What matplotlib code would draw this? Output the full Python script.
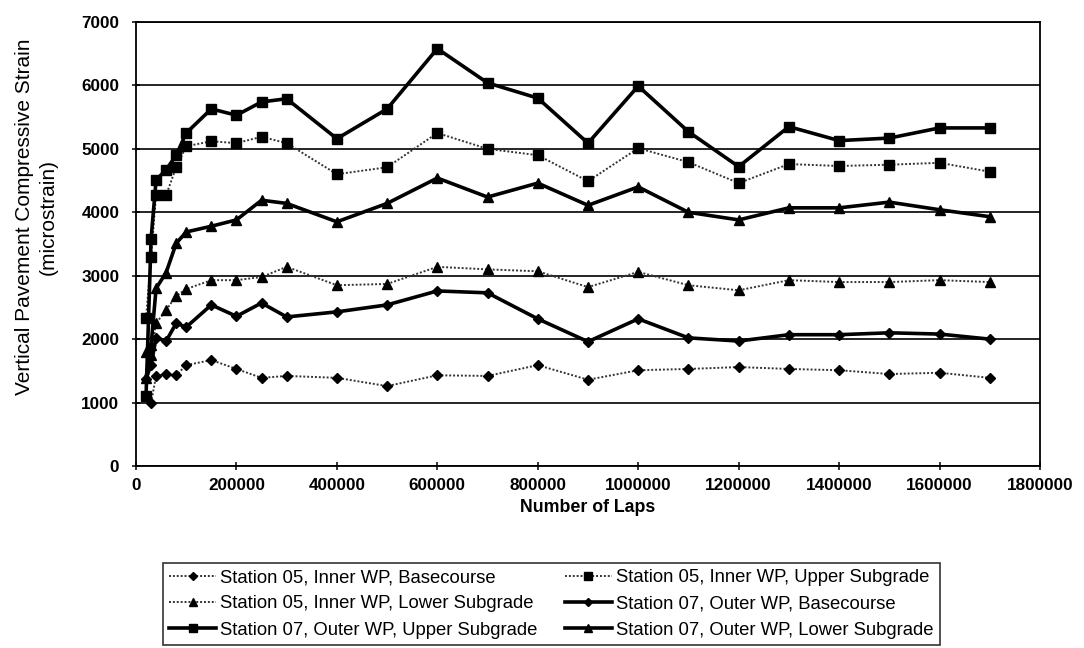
import matplotlib
matplotlib.use("Agg")
import matplotlib.pyplot as plt
from matplotlib.ticker import MultipleLocator, FuncFormatter

plt.rcParams['font.family'] = ['Liberation Sans', 'DejaVu Sans']

laps = [20000, 30000, 40000, 60000, 80000, 100000, 150000, 200000, 250000, 300000,
        400000, 500000, 600000, 700000, 800000, 900000, 1000000, 1100000, 1200000,
        1300000, 1400000, 1500000, 1600000, 1700000]

s05_base = [1100, 1000, 1420, 1450, 1430, 1590, 1670, 1530, 1390, 1420,
            1390, 1260, 1430, 1420, 1590, 1360, 1510, 1530, 1560,
            1530, 1510, 1450, 1470, 1390]
s05_upper = [2330, 3290, 4280, 4270, 4710, 5040, 5120, 5090, 5190, 5090,
             4600, 4710, 5250, 5000, 4900, 4490, 5010, 4790, 4460,
             4760, 4730, 4750, 4780, 4640]
s05_lower = [1800, 1750, 2250, 2460, 2680, 2790, 2930, 2930, 2980, 3140,
             2850, 2870, 3140, 3100, 3070, 2820, 3060, 2850, 2770,
             2930, 2900, 2900, 2930, 2900]
s07_base = [1370, 1600, 2020, 1970, 2250, 2190, 2540, 2360, 2570, 2350,
            2430, 2540, 2760, 2730, 2320, 1960, 2320, 2020, 1970,
            2070, 2070, 2100, 2080, 2000]
s07_upper = [1100, 3580, 4510, 4670, 4900, 5250, 5630, 5530, 5740, 5790,
             5160, 5630, 6580, 6040, 5800, 5090, 5990, 5270, 4720,
             5350, 5130, 5170, 5330, 5330]
s07_lower = [1390, 1900, 2800, 3050, 3510, 3690, 3780, 3880, 4190, 4140,
             3850, 4140, 4540, 4240, 4460, 4110, 4400, 4000, 3880,
             4070, 4070, 4160, 4040, 3930]

labels = [
    "Station 05, Inner WP, Basecourse",
    "Station 05, Inner WP, Upper Subgrade",
    "Station 05, Inner WP, Lower Subgrade",
    "Station 07, Outer WP, Basecourse",
    "Station 07, Outer WP, Upper Subgrade",
    "Station 07, Outer WP, Lower Subgrade",
]

W, H = 1084, 648
fig = plt.figure(figsize=(W / 100, H / 100), dpi=100)
ax = fig.add_axes([136 / W, 1 - 466 / H, (1040 - 136) / W, (466 - 22) / H])

thin = dict(color='#333333', linestyle=(0, (1, 1)), linewidth=1.4)
thick = dict(color='black', linestyle='-', linewidth=2.6)
mk = dict(markerfacecolor='black', markeredgecolor='black')

h1, = ax.plot(laps, s05_base, marker='D', markersize=5.5, **mk, **thin)
h2, = ax.plot(laps, s05_upper, marker='s', markersize=6.5, **mk, **thin)
h3, = ax.plot(laps, s05_lower, marker='^', markersize=7, **mk, **thin)
h4, = ax.plot(laps, s07_base, marker='D', markersize=5.5, **mk, **thick)
h5, = ax.plot(laps, s07_upper, marker='s', markersize=6.5, **mk, **thick)
h6, = ax.plot(laps, s07_lower, marker='^', markersize=7, **mk, **thick)

ax.set_xlim(0, 1800000)
ax.set_ylim(0, 7000)
ax.xaxis.set_major_locator(MultipleLocator(200000))
ax.yaxis.set_major_locator(MultipleLocator(1000))
ax.xaxis.set_major_formatter(FuncFormatter(lambda v, p: f"{int(v)}"))
ax.yaxis.set_major_formatter(FuncFormatter(lambda v, p: f"{int(v)}"))
ax.grid(axis='y', color='black', linewidth=1.2)
ax.set_axisbelow(True)
for side in ax.spines.values():
    side.set_linewidth(1.3)
    side.set_color('black')
ax.tick_params(direction='inout', length=6, width=1.1, colors='black')
ax.tick_params(axis='y', pad=9)
ax.tick_params(axis='x', pad=6)
for lbl in ax.get_xticklabels() + ax.get_yticklabels():
    lbl.set_fontsize(12.3)
    lbl.set_fontweight('bold')

# axis titles
fig.text(588 / W, 1 - 508 / H, "Number of Laps", fontsize=12.8, fontweight='bold',
         ha='center', va='center')
fig.text(25 / W, 1 - 217 / H, "Vertical Pavement Compressive Strain", fontsize=15,
         rotation=90, ha='center', va='center')
fig.text(48 / W, 1 - 217 / H, "(microstrain)", fontsize=15,
         rotation=90, ha='center', va='center')

leg = fig.legend([h1, h3, h5, h2, h4, h6],
                 [labels[0], labels[2], labels[4], labels[1], labels[3], labels[5]],
                 ncol=2, loc='lower left', bbox_to_anchor=(163 / W, 3 / H),
                 frameon=True, fancybox=False, edgecolor='black',
                 prop={'size': 13.3},
                 handlelength=2.5, handletextpad=0.25, columnspacing=1.5,
                 labelspacing=0.5, borderpad=0.35, borderaxespad=0, markerscale=0.8)
leg.get_frame().set_linewidth(1.2)

fig.savefig("out.png", dpi=100)
